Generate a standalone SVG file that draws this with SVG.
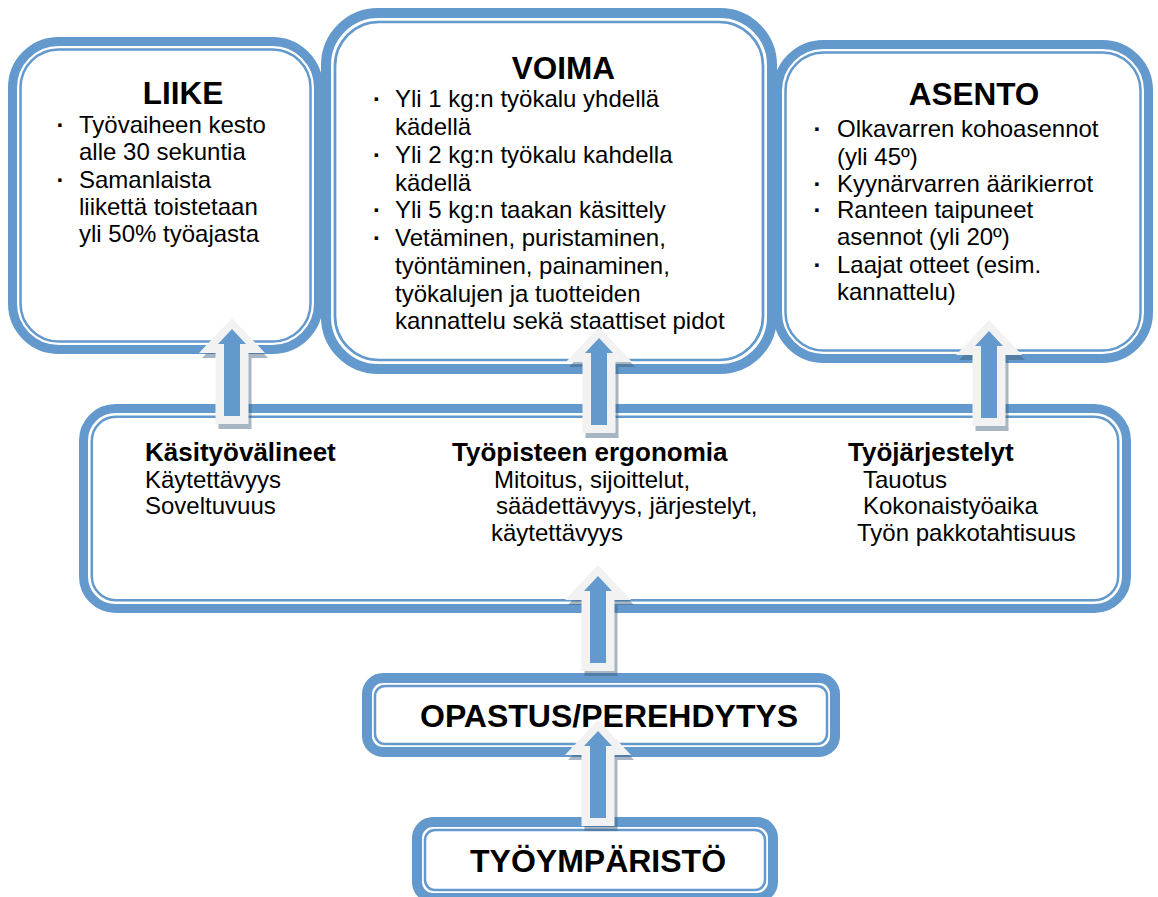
<svg xmlns="http://www.w3.org/2000/svg" xmlns:xlink="http://www.w3.org/1999/xlink" width="1158" height="897" viewBox="0 0 1158 897">
<style>
.outer{fill:#ffffff;stroke:#6399cc;stroke-width:9}
.inner{fill:none;stroke:#6399cc;stroke-width:2.5}
.t{font-family:"Liberation Sans",Arial,sans-serif;font-size:24px;fill:#000}
.d{font-family:"Liberation Sans",Arial,sans-serif;font-size:24px;font-weight:bold;fill:#000}
.b{font-family:"Liberation Sans",Arial,sans-serif;font-weight:bold;fill:#000}
.h{font-size:31.5px}
.m{font-size:26px}
.big{font-size:32px}
</style>
<defs>
<g id="arrow">
<path d="M0,0 L33,35 L16.5,35 L16.5,106 L-16.5,106 L-16.5,35 L-33,35 Z" transform="translate(3,5)" fill="#3d5a7a" opacity="0.45"/>
<path d="M0,0 L33,35 L16.5,35 L16.5,106 L-16.5,106 L-16.5,35 L-33,35 Z" fill="#f2f2f2"/>
<path d="M0,11 L14,26 L8,26 L8,98 L-8,98 L-8,26 L-14,26 Z" fill="#6399cc"/>
</g>
</defs>
<rect width="1158" height="897" fill="#ffffff"/>

<g id="liike">
<rect class="outer" x="12.5" y="41.5" width="306" height="308" rx="46"/>
<rect class="inner" x="20.5" y="49.5" width="290" height="292" rx="38"/>
<text class="b h" x="183" y="104" text-anchor="middle">LIIKE</text>
<text class="d" x="56.5" y="133">·</text>
<text class="t" x="79" y="133">Työvaiheen kesto</text>
<text class="t" x="79" y="160">alle 30 sekuntia</text>
<text class="d" x="56.5" y="188">·</text>
<text class="t" x="79" y="188">Samanlaista</text>
<text class="t" x="79" y="215">liikettä toistetaan</text>
<text class="t" x="79" y="242">yli 50% työajasta</text>
</g>

<g id="voima">
<rect class="outer" x="326" y="13" width="446" height="356" rx="52" style="stroke-width:10"/>
<rect class="inner" x="335" y="22" width="428" height="338" rx="44" style="stroke-width:2.7"/>
<text class="b h" x="563.5" y="79" text-anchor="middle">VOIMA</text>
<text class="d" x="373" y="107">·</text>
<text class="t" x="395" y="107">Yli 1 kg:n työkalu yhdellä</text>
<text class="t" x="395" y="135">kädellä</text>
<text class="d" x="373" y="163">·</text>
<text class="t" x="395" y="163">Yli 2 kg:n työkalu kahdella</text>
<text class="t" x="395" y="191">kädellä</text>
<text class="d" x="373" y="218">·</text>
<text class="t" x="395" y="218">Yli 5 kg:n taakan käsittely</text>
<text class="d" x="373" y="246">·</text>
<text class="t" x="395" y="246">Vetäminen, puristaminen,</text>
<text class="t" x="395" y="274">työntäminen, painaminen,</text>
<text class="t" x="395" y="302">työkalujen ja tuotteiden</text>
<text class="t" x="395" y="329">kannattelu sekä staattiset pidot</text>
</g>

<g id="asento">
<rect class="outer" x="777.5" y="44.5" width="371" height="314" rx="46"/>
<rect class="inner" x="785.5" y="52.5" width="355" height="298" rx="38"/>
<text class="b h" x="974" y="105" text-anchor="middle">ASENTO</text>
<text class="d" x="813.5" y="137">·</text>
<text class="t" x="837" y="137">Olkavarren kohoasennot</text>
<text class="t" x="837" y="165">(yli 45º)</text>
<text class="d" x="813.5" y="192">·</text>
<text class="t" x="837" y="192">Kyynärvarren äärikierrot</text>
<text class="d" x="813.5" y="218">·</text>
<text class="t" x="837" y="218">Ranteen taipuneet</text>
<text class="t" x="837" y="245">asennot (yli 20º)</text>
<text class="d" x="813.5" y="273">·</text>
<text class="t" x="837" y="273">Laajat otteet (esim.</text>
<text class="t" x="837" y="300">kannattelu)</text>
</g>

<g id="tekijat">
<rect class="outer" x="83.5" y="408.5" width="1043" height="200" rx="32"/>
<rect class="inner" x="91.8" y="416.8" width="1026.4" height="183.4" rx="24"/>
<text class="b m" x="145" y="461">Käsityövälineet</text>
<text class="t" x="145" y="488">Käytettävyys</text>
<text class="t" x="145" y="514">Soveltuvuus</text>
<text class="b m" x="452" y="461">Työpisteen ergonomia</text>
<text class="t" x="494" y="488">Mitoitus, sijoittelut,</text>
<text class="t" x="496" y="514">säädettävyys, järjestelyt,</text>
<text class="t" x="491" y="541">käytettävyys</text>
<text class="b m" x="848" y="461">Työjärjestelyt</text>
<text class="t" x="863" y="488">Tauotus</text>
<text class="t" x="863" y="514">Kokonaistyöaika</text>
<text class="t" x="857" y="541">Työn pakkotahtisuus</text>
</g>

<g id="opastus">
<rect class="outer" x="367" y="678" width="468" height="74" rx="16" style="stroke-width:10"/>
<rect class="inner" x="375" y="686" width="452" height="58" rx="10"/>
<text class="b big" x="420" y="727">OPASTUS/PEREHDYTYS</text>
</g>

<g id="tyoymparisto">
<rect class="outer" x="417" y="822" width="356" height="76" rx="16" style="stroke-width:10"/>
<rect class="inner" x="425" y="830" width="340" height="60" rx="10"/>
<text class="b big" x="470" y="872">TYÖYMPÄRISTÖ</text>
</g>

<g id="connectors">
<use xlink:href="#arrow" href="#arrow" transform="translate(232,318)"/>
<use xlink:href="#arrow" href="#arrow" transform="translate(599,327)"/>
<use xlink:href="#arrow" href="#arrow" transform="translate(989,320)"/>
<use xlink:href="#arrow" href="#arrow" transform="translate(598,565)"/>
<use xlink:href="#arrow" href="#arrow" transform="translate(598,720)"/>
</g>
</svg>
